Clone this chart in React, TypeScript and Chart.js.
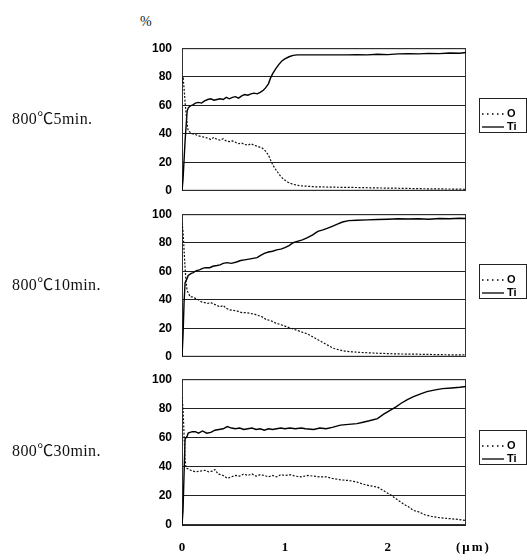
import React, { useEffect, useRef } from "react";
import { Chart, registerables } from "chart.js";

Chart.register(...registerables);

// ---------- data ----------
const X_MAX = 2.76;
const Y_MIN = 0;
const Y_MAX = 100;
const Y_STEP = 20;
const X_TICK_LABELS = ["0", "1", "2"];
const X_UNIT = "(μm)";
const Y_UNIT = "%";
const PANEL_LABELS = ["800℃5min.", "800℃10min.", "800℃30min."];
const SERIES_NAMES = ["O", "Ti"];

// 800℃ 5min
const O5_X = [0, 0.01, 0.02, 0.03, 0.045, 0.06, 0.08, 0.1, 0.13, 0.16, 0.19, 0.22, 0.25, 0.28, 0.31, 0.34, 0.37, 0.4, 0.43, 0.46, 0.49, 0.52, 0.55, 0.58, 0.61, 0.64, 0.67, 0.7, 0.74, 0.78, 0.81, 0.84, 0.87, 0.9, 0.93, 0.96, 0.99, 1.03, 1.08, 1.15, 1.3, 1.5, 1.7, 1.9, 2.1, 2.3, 2.5, 2.7, 2.76];
const O5_Y = [76, 80, 72, 62, 50, 42, 41, 40, 39.5, 38.5, 38, 37.5, 37, 36, 37.5, 36, 35.5, 36.5, 35, 34.5, 35, 34, 33, 33.5, 32.5, 32, 33, 32, 31, 30, 28, 25, 20, 16, 13, 10, 8, 6, 4.5, 3.5, 2.8, 2.5, 2.3, 2, 1.8, 1.5, 1.3, 1.2, 1];
const TI5_X = [0, 0.01, 0.03, 0.05, 0.06, 0.08, 0.1, 0.13, 0.16, 0.19, 0.22, 0.25, 0.28, 0.31, 0.34, 0.37, 0.4, 0.43, 0.46, 0.49, 0.52, 0.55, 0.58, 0.61, 0.64, 0.67, 0.7, 0.73, 0.76, 0.79, 0.81, 0.84, 0.86, 0.88, 0.91, 0.94, 0.97, 1.0, 1.04, 1.08, 1.12, 1.2, 1.4, 1.6, 1.7, 1.8, 1.9, 2.0, 2.1, 2.2, 2.3, 2.4, 2.5, 2.6, 2.7, 2.76];
const TI5_Y = [0, 8, 35, 56, 58, 59.5, 60, 61.5, 62, 61.5, 63, 64, 64.5, 63.5, 64, 64.5, 64, 65.5, 64.5, 65.5, 66, 65, 66.5, 67.5, 67, 68, 68.5, 68, 69, 70.5, 72, 75, 79, 82, 85.5, 88.5, 91, 92.5, 94, 95, 95.3, 95.3, 95.3, 95.3, 95.5, 95.3, 95.8, 95.5, 96, 96.2, 96, 96.4, 96.2, 96.6, 96.5, 97];

// 800℃ 10min
const O10_X = [0, 0.01, 0.02, 0.03, 0.04, 0.05, 0.08, 0.1, 0.13, 0.16, 0.19, 0.22, 0.25, 0.28, 0.31, 0.34, 0.37, 0.4, 0.43, 0.46, 0.5, 0.54, 0.58, 0.62, 0.66, 0.7, 0.74, 0.78, 0.82, 0.86, 0.9, 0.94, 0.98, 1.02, 1.06, 1.1, 1.14, 1.18, 1.22, 1.27, 1.32, 1.37, 1.42, 1.47, 1.52, 1.58, 1.65, 1.75, 1.9, 2.1, 2.3, 2.5, 2.7, 2.76];
const O10_Y = [94, 88, 75, 62, 52, 46.5, 42, 42, 41, 40, 38.5, 38, 37.5, 38, 37, 36, 35, 36, 34, 33, 32.5, 32, 31, 31, 30.5, 30, 29, 28, 26, 25.5, 24, 23, 22, 21, 20, 19, 18, 17, 16, 14, 12, 10, 8, 6, 5, 4, 3.5, 3, 2.5, 2, 1.8, 1.5, 1.3, 1.5];
const TI10_X = [0, 0.01, 0.02, 0.03, 0.05, 0.06, 0.09, 0.11, 0.14, 0.17, 0.2, 0.23, 0.27, 0.3, 0.34, 0.37, 0.4, 0.44, 0.48, 0.53, 0.57, 0.61, 0.65, 0.69, 0.73, 0.76, 0.8, 0.84, 0.88, 0.92, 0.96, 1.0, 1.04, 1.08, 1.12, 1.17, 1.22, 1.27, 1.32, 1.37, 1.41, 1.46, 1.51, 1.56, 1.62, 1.7, 1.8, 1.9, 2.0, 2.1, 2.2, 2.3, 2.4, 2.5, 2.6, 2.7, 2.76];
const TI10_Y = [0, 15, 38, 52, 55, 57, 58.5, 59, 60.5, 61, 62, 62.5, 62.5, 63.5, 64, 64.5, 65.5, 66, 65.5, 66.5, 67.5, 68, 68.5, 69, 69.5, 71, 72.5, 73.5, 74, 75, 75.5, 76.5, 78, 80, 81, 82, 83.5, 85.5, 88, 89, 90, 91.5, 93, 94.5, 95.5, 95.8, 96, 96.3, 96.5, 96.8, 96.6, 96.8, 96.5, 97, 96.8, 97.2, 97];

// 800℃ 30min
const O30_X = [0, 0.01, 0.02, 0.03, 0.04, 0.06, 0.1, 0.14, 0.18, 0.22, 0.26, 0.3, 0.32, 0.35, 0.4, 0.44, 0.48, 0.52, 0.56, 0.6, 0.64, 0.68, 0.72, 0.76, 0.8, 0.84, 0.88, 0.92, 0.96, 1.0, 1.05, 1.1, 1.16, 1.22, 1.28, 1.34, 1.4, 1.46, 1.54, 1.62, 1.7, 1.76, 1.82, 1.9, 1.96, 2.03, 2.08, 2.15, 2.2, 2.25, 2.3, 2.36, 2.42, 2.5, 2.58, 2.66, 2.72, 2.76];
const O30_Y = [88, 80, 62, 45, 39, 38.5, 37, 36.5, 37, 37.5, 36.5, 37, 38, 35, 34, 32, 33, 34, 33.5, 35, 34, 35, 33.5, 34.5, 34, 33, 34, 33, 34.5, 34, 34.5, 33.5, 33, 34, 33.5, 33, 33, 32, 31, 30.5, 29.5, 28, 27, 26, 23.5, 20.5, 18, 14.5, 12.5, 10, 9, 7, 6, 5, 4.5, 4, 3.5, 3];
const TI30_X = [0, 0.01, 0.02, 0.03, 0.05, 0.06, 0.1, 0.13, 0.16, 0.2, 0.24, 0.28, 0.32, 0.36, 0.4, 0.44, 0.48, 0.52, 0.56, 0.6, 0.64, 0.68, 0.72, 0.76, 0.8, 0.84, 0.88, 0.92, 0.96, 1.0, 1.05, 1.1, 1.16, 1.2, 1.28, 1.34, 1.4, 1.46, 1.54, 1.62, 1.7, 1.76, 1.82, 1.9, 1.96, 2.03, 2.08, 2.13, 2.19, 2.25, 2.32, 2.38, 2.45, 2.53, 2.62, 2.7, 2.76];
const TI30_Y = [0, 10, 35, 59, 61, 63, 64, 64, 63, 64.5, 63, 63.5, 65, 65.5, 66, 67.5, 66.5, 66, 66.5, 65.5, 66, 66.5, 65.5, 66, 65, 66, 65.5, 66, 66.5, 66, 66.5, 66, 66.5, 66, 65.5, 66.5, 66, 67, 68.5, 69, 69.5, 70.5, 71.5, 73, 76, 79, 81, 83.5, 86, 88, 90, 91.5, 92.5, 93.5, 94, 94.5, 95];

// ---------- layout ----------
const PANELS = [
  { top: 47, bottom: 191, oX: O5_X, oY: O5_Y, tiX: TI5_X, tiY: TI5_Y, label: PANEL_LABELS[0], showX: false },
  { top: 213, bottom: 357, oX: O10_X, oY: O10_Y, tiX: TI10_X, tiY: TI10_Y, label: PANEL_LABELS[1], showX: false },
  { top: 378, bottom: 523, oX: O30_X, oY: O30_Y, tiX: TI30_X, tiY: TI30_Y, label: PANEL_LABELS[2], showX: true },
];

const PLOT_LEFT = 182;
const PLOT_RIGHT = 466;
const PAD_TOP = 8;
const SANS = "'Liberation Sans', Arial, sans-serif";
const SERIF = "'Liberation Serif', 'Times New Roman', 'Noto Sans CJK JP', serif";

const framePlugin = {
  id: "frame",
  beforeDatasetsDraw(chart: any) {
    const { ctx, chartArea } = chart;
    const { left, top, right, bottom } = chartArea;
    ctx.save();
    ctx.strokeStyle = "#333";
    ctx.lineWidth = 1;
    ctx.strokeRect(left + 0.5, top + 0.5, right - left - 1, bottom - top - 1);
    ctx.restore();
  },
};

function toPoints(xs: number[], ys: number[]) {
  return xs.map((x, i) => ({ x, y: ys[i] }));
}

function Panel(props: any) {
  const { top, bottom, oX, oY, tiX, tiY, showX } = props;
  const ref = useRef<HTMLCanvasElement>(null);
  const xAxisH = showX ? 36 : 6;
  const extraTop = 16;
  const extraBottom = showX ? 38 : 17;
  const canvasTop = top - extraTop;
  const canvasH = bottom - top + extraTop + extraBottom;
  const canvasW = PLOT_RIGHT + 4;

  useEffect(() => {
    const chart = new Chart(ref.current as HTMLCanvasElement, {
      type: "line",
      data: {
        datasets: [
          {
            label: SERIES_NAMES[0],
            data: toPoints(oX, oY),
            borderColor: "#111",
            borderWidth: 1.2,
            borderDash: [2, 1.6],
            pointRadius: 0,
            tension: 0,
            fill: false,
          },
          {
            label: SERIES_NAMES[1],
            data: toPoints(tiX, tiY),
            borderColor: "#000",
            borderWidth: 1.4,
            pointRadius: 0,
            tension: 0,
            fill: false,
          },
        ],
      },
      options: {
        animation: false,
        responsive: false,
        devicePixelRatio: 1,
        events: [],
        layout: { padding: { top: PAD_TOP, left: 0, right: 4, bottom: 0 }, autoPadding: false },
        plugins: { legend: { display: false }, tooltip: { enabled: false } },
        scales: {
          x: {
            type: "linear",
            min: 0,
            max: X_MAX,
            grid: { display: false, drawTicks: false },
            border: { display: false },
            ticks: {
              display: showX,
              stepSize: 1,
              padding: 15,
              color: "#000",
              font: { family: SERIF, weight: "bold", size: 13 },
              callback: (v: any) => X_TICK_LABELS[v] ?? "",
            },
            afterBuildTicks: (s: any) => {
              s.ticks = s.ticks.filter((t: any) => Number.isInteger(t.value));
            },
            afterFit: (s: any) => {
              s.height = xAxisH;
            },
          },
          y: {
            min: Y_MIN,
            max: Y_MAX,
            ticks: {
              stepSize: Y_STEP,
              padding: 10,
              color: "#000",
              font: { family: SANS, weight: "bold", size: 12 },
            },
            grid: { color: "#222", lineWidth: 1, drawTicks: false },
            border: { display: false },
            afterFit: (s: any) => {
              s.width = PLOT_LEFT;
            },
          },
        },
      } as any,
      plugins: [framePlugin],
    });
    return () => chart.destroy();
  }, []);

  return (
    <canvas
      ref={ref}
      width={canvasW}
      height={canvasH}
      style={{ position: "absolute", left: 0, top: canvasTop, width: canvasW, height: canvasH }}
    />
  );
}

function Legend({ center }: { center: number }) {
  const boxTop = center - 21;
  return (
    <div
      style={{
        position: "absolute",
        left: 479,
        top: boxTop,
        width: 48,
        height: 35,
        border: "1px solid #222",
        boxSizing: "border-box",
        fontFamily: SANS,
        fontWeight: "bold",
        fontSize: 11,
        color: "#000",
      }}
    >
      <svg width={24} height={4} style={{ position: "absolute", left: 1, top: 13 }}>
        <line x1={1} y1={2} x2={23} y2={2} stroke="#000" strokeWidth={1.3} strokeDasharray="1.5 3.5" />
      </svg>
      <span style={{ position: "absolute", left: 27, top: 8, lineHeight: "12px" }}>{SERIES_NAMES[0]}</span>
      <svg width={24} height={4} style={{ position: "absolute", left: 1, top: 26 }}>
        <line x1={1} y1={2} x2={23} y2={2} stroke="#000" strokeWidth={1.3} />
      </svg>
      <span style={{ position: "absolute", left: 27, top: 21, lineHeight: "12px" }}>{SERIES_NAMES[1]}</span>
    </div>
  );
}

export default function App() {
  return (
    <div
      style={{
        position: "absolute",
        left: 0,
        top: 0,
        width: 527,
        height: 560,
        background: "#fff",
        overflow: "hidden",
      }}
    >
      <div
        style={{
          position: "absolute",
          left: 140,
          top: 14,
          fontFamily: SERIF,
          fontSize: 14,
          lineHeight: "16px",
          color: "#222",
        }}
      >
        {Y_UNIT}
      </div>
      {PANELS.map((p, i) => {
        const center = (p.top + p.bottom) / 2;
        return (
          <React.Fragment key={i}>
            <Panel {...p} />
            <div
              style={{
                position: "absolute",
                left: 12,
                top: center - 10,
                fontFamily: SERIF,
                fontSize: 16,
                lineHeight: "20px",
                letterSpacing: 0.4,
                color: "#111",
                whiteSpace: "nowrap",
              }}
            >
              {p.label}
            </div>
            <Legend center={center} />
          </React.Fragment>
        );
      })}
      <div
        style={{
          position: "absolute",
          left: 456,
          top: 539,
          fontFamily: SERIF,
          fontWeight: "bold",
          fontSize: 13,
          lineHeight: "16px",
          letterSpacing: 2,
          color: "#000",
          whiteSpace: "nowrap",
        }}
      >
        {X_UNIT}
      </div>
    </div>
  );
}
